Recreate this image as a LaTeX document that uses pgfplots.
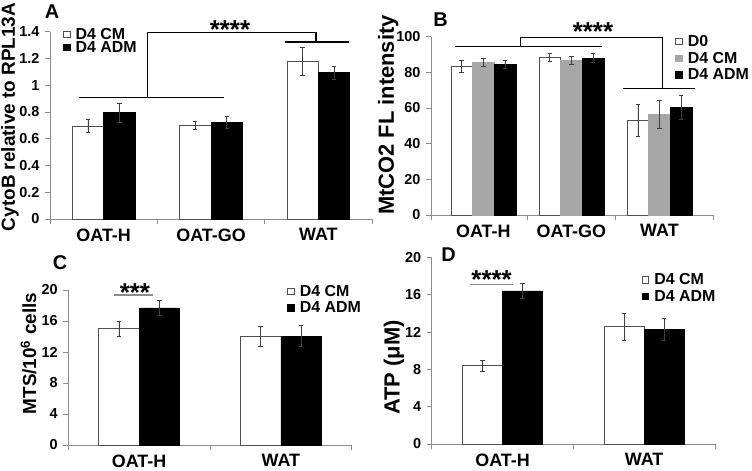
\documentclass[border=0pt]{standalone}
\usepackage{fontspec}
\setmainfont{Liberation Sans}
\usepackage{pgfplots}
\usepackage{pgfplotstable}
\pgfplotsset{compat=1.18}

\definecolor{axgray}{HTML}{8C8C8C}
\definecolor{bargray}{HTML}{A6A6A6}
\definecolor{edgegray}{HTML}{505050}

\pgfplotstableread{
x cm cme adm adme
0 0.695 0.047 0.795 0.07
1 0.697 0.03 0.725 0.045
2 1.18 0.105 1.095 0.05
}\tA
\pgfplotstableread{
x d0 d0e cm cme adm adme
0 83.6 3.3 85.6 2.3 84.5 2.2
1 88.4 2.3 86.7 2.4 88.0 2.6
2 53.3 8.9 56.4 7.7 60.4 6.5
}\tB
\pgfplotstableread{
x cm cme adm adme
0 15.0 0.97 17.7 0.93
1 13.98 1.3 14.06 1.35
}\tC
\pgfplotstableread{
x cm cme adm adme
0 8.39 0.57 16.39 0.8
1 12.57 1.45 12.29 1.2
}\tD

\tikzset{stars/.style={font=\bfseries\fontsize{26}{26}\selectfont, anchor=base, inner sep=0pt}}
\pgfplotsset{
  sqleg/.style={legend image code/.code={\draw[##1,/tikz/.cd] (0bp,-3bp) rectangle (6.5bp,3.5bp); \path (10bp,0bp);}},
  base/.style={
    scale only axis, clip=false, anchor=south west,
    axis x line*=bottom, axis y line*=left,
    axis line style={-, axgray, line width=0.8bp},
    tick align=outside, ytick pos=left, xtick pos=bottom,
    major tick length=5bp, minor tick length=5bp,
    tick style={axgray, line width=0.8bp},
    major x tick style={draw=none},
    minor x tick style={axgray, line width=0.8bp},
    /pgf/number format/assume math mode=true,
    yticklabel style={font=\bfseries\fontsize{14.5}{14.5}\selectfont, xshift=-2bp},
    xticklabel style={font=\bfseries\fontsize{18}{18}\selectfont, yshift=-1bp},
    ylabel style={font=\bfseries\fontsize{19}{19}\selectfont, anchor=center},
    legend style={draw=none, fill=none, inner sep=0pt, row sep=0bp,
      font=\bfseries\fontsize{16}{16}\selectfont},
    legend cell align=left,
    error bars/error bar style={line width=0.6bp, black!75},
    error bars/error mark options={rotate=90, mark size=2.2bp, line width=0.6bp, black!75},
  },
  wb/.style={ybar, bar shift=0, fill=white, draw=edgegray, line width=0.6bp, forget plot},
  bb/.style={ybar, bar shift=0, fill=black, draw=black, line width=0.6bp, forget plot},
  gb/.style={ybar, bar shift=0, fill=bargray, draw=bargray, line width=0.6bp, forget plot},
  br/.style={black, line width=1.2bp, forget plot},
  sg/.style={axgray, line width=1.2bp, forget plot},
}

\begin{document}
\begin{tikzpicture}
\useasboundingbox (0,0) rectangle (752bp,471bp);

% ---------------- A ----------------
\begin{axis}[base, at={(50bp,252bp)}, width=322bp, height=187.3bp,
  xmin=-0.5, xmax=2.5, ymin=0, ymax=1.4,
  ytick={0,0.2,0.4,0.6,0.8,1,1.2,1.4},
  xtick={0,1,2}, xticklabels={OAT-H,OAT-GO,WAT}, minor xtick={-0.5,0.5,1.5,2.5},
  ylabel={CytoB relative to RPL13A},
  ylabel style={at={(axis description cs:-0.124,0.545)}},
  legend style={at={(axis description cs:0.04,1.03)}, anchor=north west, row sep=-3.5bp}]
\addlegendimage{sqleg, fill=white, draw=edgegray, line width=0.5bp}
\addlegendentry{D4 CM}
\addlegendimage{sqleg, fill=black, draw=black}
\addlegendentry{D4 ADM}
\addplot[wb, bar width=0.293, error bars/.cd, y dir=both, y explicit]
  table[x expr=\thisrow{x}-0.1465, y=cm, y error=cme] {\tA};
\addplot[bb, bar width=0.293, error bars/.cd, y dir=both, y explicit]
  table[x expr=\thisrow{x}+0.1465, y=adm, y error=adme] {\tA};
\addplot[br] coordinates {(-0.23,0.909) (1.124,0.909)};
\addplot[br] coordinates {(0.41,0.909) (0.41,1.395) (1.978,1.395) (1.978,1.323)};
\addplot[br] coordinates {(1.69,1.323) (2.286,1.323)};
\node[stars] at (axis cs:1.177,1.348) {****};
\end{axis}

% ---------------- B ----------------
\begin{axis}[base, at={(431bp,256bp)}, width=282.3bp, height=178.3bp,
  xmin=-0.594, xmax=2.611, ymin=0, ymax=100,
  ytick={0,20,40,60,80,100},
  xtick={0,1,2}, xticklabels={OAT-H,OAT-GO,WAT}, minor xtick={-0.594,0.5,1.5,2.611},
  ylabel={MtCO2 FL intensity},
  ylabel style={at={(axis description cs:-0.152,0.56)}, font=\bfseries\fontsize{22}{22}\selectfont},
  legend style={at={(axis description cs:0.865,1.02)}, anchor=north west}]
\addlegendimage{sqleg, fill=white, draw=edgegray, line width=0.5bp}
\addlegendentry{D0}
\addlegendimage{sqleg, fill=bargray, draw=bargray}
\addlegendentry{D4 CM}
\addlegendimage{sqleg, fill=black, draw=black}
\addlegendentry{D4 ADM}
\addplot[wb, bar width=0.246, error bars/.cd, y dir=both, y explicit]
  table[x expr=\thisrow{x}-0.246, y=d0, y error=d0e] {\tB};
\addplot[gb, bar width=0.246, error bars/.cd, y dir=both, y explicit]
  table[x=x, y=cm, y error=cme] {\tB};
\addplot[bb, bar width=0.246, error bars/.cd, y dir=both, y explicit]
  table[x expr=\thisrow{x}+0.246, y=adm, y error=adme] {\tB};
\addplot[br] coordinates {(-0.321,94.4) (1.344,94.4)};
\addplot[br] coordinates {(0.425,94.4) (0.425,99.4) (2.036,99.4) (2.036,71.0)};
\addplot[br] coordinates {(1.589,71.0) (2.403,71.0)};
\node[stars] at (axis cs:1.245,97.8) {****};
\end{axis}

% ---------------- C ----------------
\begin{axis}[base, at={(68.3bp,26bp)}, width=283.4bp, height=155bp,
  xmin=-0.5, xmax=1.5, ymin=0, ymax=20,
  ytick={0,4,8,12,16,20},
  xtick={0,1}, xticklabels={OAT-H,WAT}, minor xtick={-0.5,0.5,1.5},
  ylabel={MTS/10\textsuperscript{6} cells},
  ylabel style={at={(axis description cs:-0.14,0.59)}},
  legend style={at={(axis description cs:0.772,1.045)}, anchor=north west}]
\addlegendimage{sqleg, fill=white, draw=edgegray, line width=0.5bp}
\addlegendentry{D4 CM}
\addlegendimage{sqleg, fill=black, draw=black}
\addlegendentry{D4 ADM}
\addplot[wb, bar width=0.286, error bars/.cd, y dir=both, y explicit]
  table[x expr=\thisrow{x}-0.143, y=cm, y error=cme] {\tC};
\addplot[bb, bar width=0.286, error bars/.cd, y dir=both, y explicit]
  table[x expr=\thisrow{x}+0.143, y=adm, y error=adme] {\tC};
\addplot[sg] coordinates {(-0.175,19.35) (0.096,19.35)};
\node[stars] at (axis cs:-0.03,18.5) {***};
\end{axis}

% ---------------- D ----------------
\begin{axis}[base, at={(431.7bp,27bp)}, width=283.3bp, height=186.7bp,
  xmin=-0.5, xmax=1.5, ymin=0, ymax=20,
  ytick={0,4,8,12,16,20},
  xtick={0,1}, xticklabels={OAT-H,WAT}, minor xtick={-0.5,0.5,1.5},
  ylabel={ATP (μM)},
  ylabel style={at={(axis description cs:-0.133,0.41)}, font=\bfseries\fontsize{22}{22}\selectfont},
  legend style={at={(axis description cs:0.741,0.925)}, anchor=north west}]
\addlegendimage{sqleg, fill=white, draw=edgegray, line width=0.5bp}
\addlegendentry{D4 CM}
\addlegendimage{sqleg, fill=black, draw=black}
\addlegendentry{D4 ADM}
\addplot[wb, bar width=0.282, error bars/.cd, y dir=both, y explicit]
  table[x expr=\thisrow{x}-0.141, y=cm, y error=cme] {\tD};
\addplot[bb, bar width=0.282, error bars/.cd, y dir=both, y explicit]
  table[x expr=\thisrow{x}+0.141, y=adm, y error=adme] {\tD};
\addplot[sg] coordinates {(-0.23,17.1) (0.072,17.1)};
\node[stars] at (axis cs:-0.077,16.7) {****};
\end{axis}

% panel letters
\node[font=\bfseries\fontsize{20}{20}\selectfont] at (52bp,459bp) {A};
\node[font=\bfseries\fontsize{20}{20}\selectfont] at (440.5bp,451.5bp) {B};
\node[font=\bfseries\fontsize{20}{20}\selectfont] at (60bp,208.5bp) {C};
\node[font=\bfseries\fontsize{20}{20}\selectfont] at (448.5bp,216bp) {D};
\end{tikzpicture}
\end{document}
